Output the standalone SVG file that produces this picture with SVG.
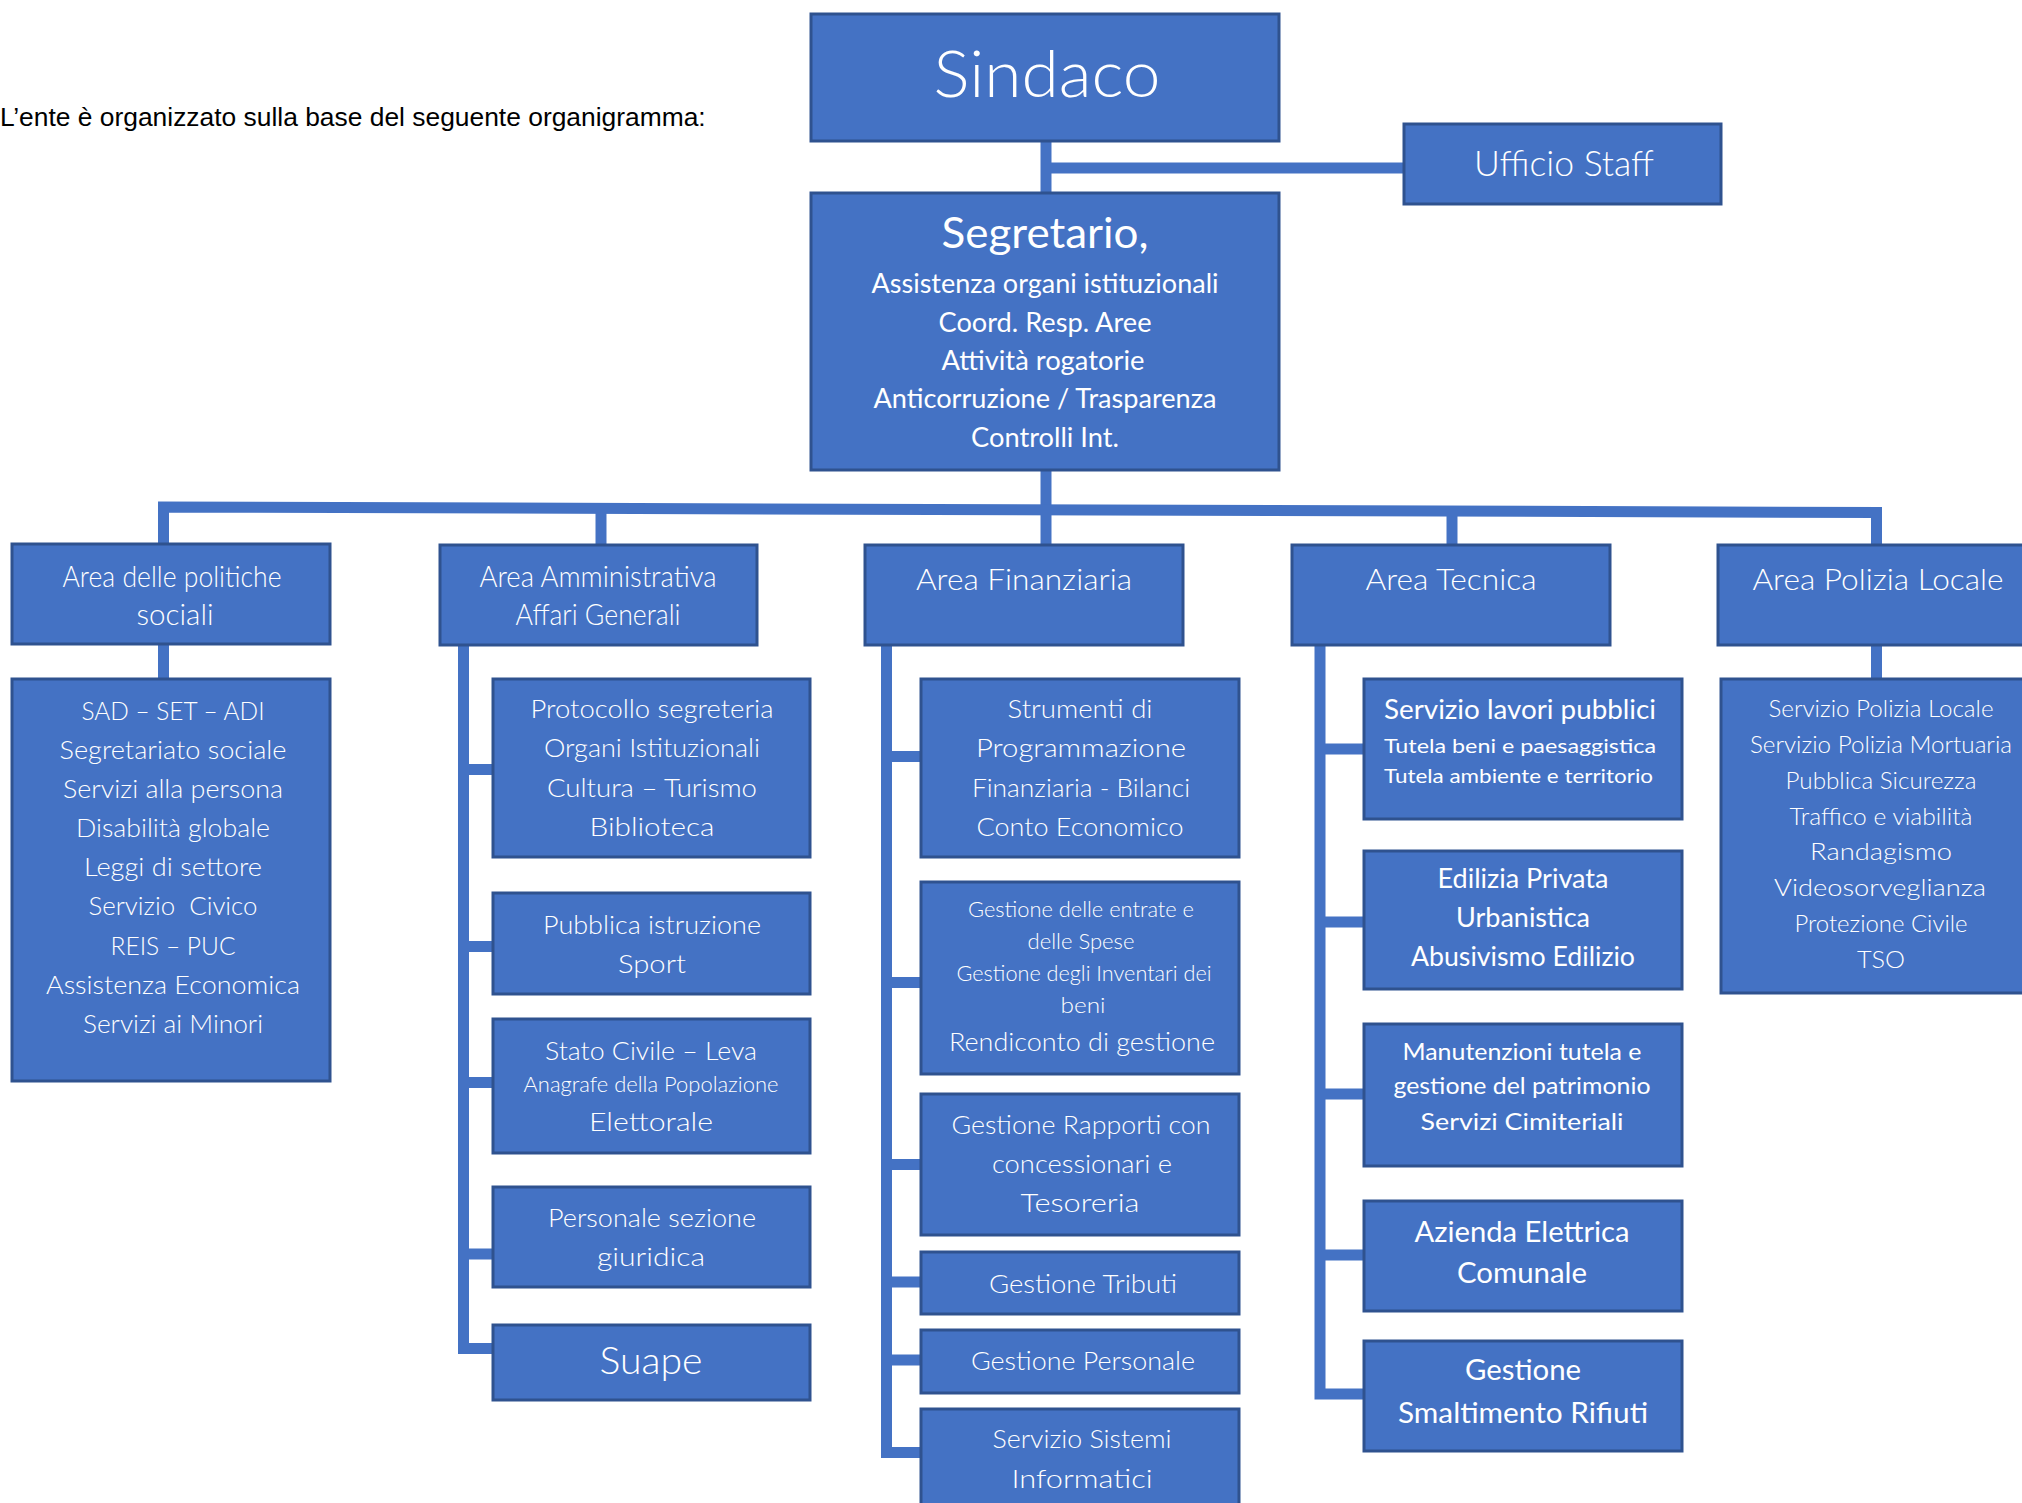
<svg xmlns="http://www.w3.org/2000/svg" width="2022" height="1503" viewBox="0 0 2022 1503">
<style>
.box{fill:#4472C4;stroke:#2F528F;stroke-width:3}
.con{fill:none;stroke:#4472C4;stroke-width:11;stroke-linejoin:miter;stroke-linecap:butt}
text{fill:#FFFFFF;font-family:Lato,"Noto Sans",sans-serif;text-anchor:middle}
.l{font-weight:300}
.r{font-weight:400}
.intro{fill:#000000;font-family:"Liberation Sans",Arial,sans-serif;text-anchor:start;font-size:26.4px}
</style>
<rect width="2022" height="1503" fill="#FFFFFF"/>
<text class="intro" x="0" y="126">L’ente è organizzato sulla base del seguente organigramma:</text>

<g id="connectors">
<path class="con" d="M1046,141 V193"/>
<path class="con" d="M1046,168 H1404"/>
<path class="con" d="M1046,469 V511"/>
<path class="con" d="M163.5,545 V507 L1876.5,512.5 V545"/>
<path class="con" d="M601,509 V545"/>
<path class="con" d="M1046,510 V545"/>
<path class="con" d="M1452,511 V545"/>
<path class="con" d="M163.5,643 V680"/>
<path class="con" d="M1876.5,645 V680"/>
<path class="con" d="M463.5,645 V1348.5 H494 M463.5,769.5 H494 M463.5,946.5 H494 M463.5,1082.5 H494 M463.5,1254 H494"/>
<path class="con" d="M886.5,645 V1452.5 H922 M886.5,756.5 H922 M886.5,982.5 H922 M886.5,1164.5 H922 M886.5,1282 H922 M886.5,1360 H922"/>
<path class="con" d="M1320,645 V1394 H1365 M1320,749 H1365 M1320,922 H1365 M1320,1094 H1365 M1320,1255 H1365"/>
</g>

<g id="sindaco">
<rect class="box" x="811" y="14" width="468" height="127"/>
<text class="l" x="1047" y="97" font-size="66" textLength="227" lengthAdjust="spacingAndGlyphs">Sindaco</text>
</g>

<g id="ufficio-staff">
<rect class="box" x="1404" y="124" width="317" height="80"/>
<text class="l" x="1564" y="176" font-size="36" textLength="180" lengthAdjust="spacingAndGlyphs">Ufficio Staff</text>
</g>

<g id="segretario">
<rect class="box" x="811" y="193" width="468" height="277"/>
<text class="r" x="1045" y="248" font-size="42" textLength="207" lengthAdjust="spacingAndGlyphs">Segretario,</text>
<text class="r" x="1045" y="293" font-size="27" textLength="347" lengthAdjust="spacingAndGlyphs">Assistenza organi istituzionali</text>
<text class="r" x="1045" y="332" font-size="27" textLength="213" lengthAdjust="spacingAndGlyphs">Coord. Resp. Aree</text>
<text class="r" x="1043" y="370" font-size="27" textLength="203" lengthAdjust="spacingAndGlyphs">Attività rogatorie</text>
<text class="r" x="1045" y="408" font-size="27" textLength="343" lengthAdjust="spacingAndGlyphs">Anticorruzione / Trasparenza</text>
<text class="r" x="1045" y="447" font-size="27" textLength="148" lengthAdjust="spacingAndGlyphs">Controlli Int.</text>
</g>

<g id="area-politiche-sociali">
<rect class="box" x="12" y="544" width="318" height="100"/>
<text class="l" x="172" y="587" font-size="30" textLength="219" lengthAdjust="spacingAndGlyphs">Area delle politiche</text>
<text class="l" x="175" y="625" font-size="30" textLength="77" lengthAdjust="spacingAndGlyphs">sociali</text>
</g>

<g id="servizi-sociali">
<rect class="box" x="12" y="679" width="318" height="402"/>
<text class="l" x="173" y="720" font-size="26" textLength="183" lengthAdjust="spacingAndGlyphs">SAD – SET – ADI</text>
<text class="l" x="173" y="759" font-size="26" textLength="227" lengthAdjust="spacingAndGlyphs">Segretariato sociale</text>
<text class="l" x="173" y="798" font-size="26" textLength="220" lengthAdjust="spacingAndGlyphs">Servizi alla persona</text>
<text class="l" x="173" y="837" font-size="26" textLength="194" lengthAdjust="spacingAndGlyphs">Disabilità globale</text>
<text class="l" x="173" y="876" font-size="26" textLength="178" lengthAdjust="spacingAndGlyphs">Leggi di settore</text>
<text class="l" x="173" y="915" font-size="26" textLength="169" lengthAdjust="spacingAndGlyphs">Servizio&#160; Civico</text>
<text class="l" x="173" y="955" font-size="26" textLength="125" lengthAdjust="spacingAndGlyphs">REIS – PUC</text>
<text class="l" x="173" y="994" font-size="26" textLength="254" lengthAdjust="spacingAndGlyphs">Assistenza Economica</text>
<text class="l" x="173" y="1033" font-size="26" textLength="180" lengthAdjust="spacingAndGlyphs">Servizi ai Minori</text>
</g>

<g id="area-amministrativa">
<rect class="box" x="440" y="545" width="317" height="100"/>
<text class="l" x="598" y="587" font-size="30" textLength="237" lengthAdjust="spacingAndGlyphs">Area Amministrativa</text>
<text class="l" x="598" y="625" font-size="30" textLength="165" lengthAdjust="spacingAndGlyphs">Affari Generali</text>
</g>

<g id="protocollo">
<rect class="box" x="493" y="679" width="317" height="178"/>
<text class="l" x="652" y="718" font-size="26" textLength="243" lengthAdjust="spacingAndGlyphs">Protocollo segreteria</text>
<text class="l" x="652" y="757" font-size="26" textLength="216" lengthAdjust="spacingAndGlyphs">Organi Istituzionali</text>
<text class="l" x="652" y="797" font-size="26" textLength="210" lengthAdjust="spacingAndGlyphs">Cultura – Turismo</text>
<text class="l" x="652" y="836" font-size="26" textLength="125" lengthAdjust="spacingAndGlyphs">Biblioteca</text>
</g>

<g id="pubblica-istruzione">
<rect class="box" x="493" y="893" width="317" height="101"/>
<text class="l" x="652" y="934" font-size="26" textLength="218" lengthAdjust="spacingAndGlyphs">Pubblica istruzione</text>
<text class="l" x="652" y="973" font-size="26" textLength="68" lengthAdjust="spacingAndGlyphs">Sport</text>
</g>

<g id="stato-civile">
<rect class="box" x="493" y="1019" width="317" height="134"/>
<text class="l" x="651" y="1060" font-size="26" textLength="212" lengthAdjust="spacingAndGlyphs">Stato Civile – Leva</text>
<text class="l" x="651" y="1092" font-size="21" textLength="255" lengthAdjust="spacingAndGlyphs">Anagrafe della Popolazione</text>
<text class="l" x="651" y="1131" font-size="26" textLength="124" lengthAdjust="spacingAndGlyphs">Elettorale</text>
</g>

<g id="personale-giuridica">
<rect class="box" x="493" y="1187" width="317" height="100"/>
<text class="l" x="652" y="1227" font-size="26" textLength="208" lengthAdjust="spacingAndGlyphs">Personale sezione</text>
<text class="l" x="651" y="1266" font-size="26" textLength="108" lengthAdjust="spacingAndGlyphs">giuridica</text>
</g>

<g id="suape">
<rect class="box" x="493" y="1325" width="317" height="75"/>
<text class="l" x="651" y="1374" font-size="37" textLength="103" lengthAdjust="spacingAndGlyphs">Suape</text>
</g>

<g id="area-finanziaria">
<rect class="box" x="865" y="545" width="318" height="100"/>
<text class="l" x="1024" y="590" font-size="30" textLength="216" lengthAdjust="spacingAndGlyphs">Area Finanziaria</text>
</g>

<g id="strumenti-programmazione">
<rect class="box" x="921" y="679" width="318" height="178"/>
<text class="l" x="1080" y="718" font-size="26" textLength="145" lengthAdjust="spacingAndGlyphs">Strumenti di</text>
<text class="l" x="1081" y="757" font-size="26" textLength="210" lengthAdjust="spacingAndGlyphs">Programmazione</text>
<text class="l" x="1081" y="797" font-size="26" textLength="218" lengthAdjust="spacingAndGlyphs">Finanziaria - Bilanci</text>
<text class="l" x="1080" y="836" font-size="26" textLength="207" lengthAdjust="spacingAndGlyphs">Conto Economico</text>
</g>

<g id="gestione-entrate-spese">
<rect class="box" x="921" y="882" width="318" height="192"/>
<text class="l" x="1081" y="917" font-size="21" textLength="226" lengthAdjust="spacingAndGlyphs">Gestione delle entrate e</text>
<text class="l" x="1081" y="949" font-size="21" textLength="107" lengthAdjust="spacingAndGlyphs">delle Spese</text>
<text class="l" x="1084" y="981" font-size="21" textLength="255" lengthAdjust="spacingAndGlyphs">Gestione degli Inventari dei</text>
<text class="l" x="1083" y="1013" font-size="21" textLength="45" lengthAdjust="spacingAndGlyphs">beni</text>
<text class="l" x="1082" y="1051" font-size="26" textLength="266" lengthAdjust="spacingAndGlyphs">Rendiconto di gestione</text>
</g>

<g id="gestione-rapporti">
<rect class="box" x="921" y="1094" width="318" height="141"/>
<text class="l" x="1081" y="1134" font-size="26" textLength="259" lengthAdjust="spacingAndGlyphs">Gestione Rapporti con</text>
<text class="l" x="1082" y="1173" font-size="26" textLength="180" lengthAdjust="spacingAndGlyphs">concessionari e</text>
<text class="l" x="1080" y="1212" font-size="26" textLength="119" lengthAdjust="spacingAndGlyphs">Tesoreria</text>
</g>

<g id="gestione-tributi">
<rect class="box" x="921" y="1252" width="318" height="62"/>
<text class="l" x="1083" y="1293" font-size="26" textLength="188" lengthAdjust="spacingAndGlyphs">Gestione Tributi</text>
</g>

<g id="gestione-personale">
<rect class="box" x="921" y="1330" width="318" height="63"/>
<text class="l" x="1083" y="1370" font-size="26" textLength="224" lengthAdjust="spacingAndGlyphs">Gestione Personale</text>
</g>

<g id="sistemi-informatici">
<rect class="box" x="921" y="1409" width="318" height="110"/>
<text class="l" x="1082" y="1448" font-size="26" textLength="179" lengthAdjust="spacingAndGlyphs">Servizio Sistemi</text>
<text class="l" x="1082" y="1488" font-size="26" textLength="141" lengthAdjust="spacingAndGlyphs">Informatici</text>
</g>

<g id="area-tecnica">
<rect class="box" x="1292" y="545" width="318" height="100"/>
<text class="l" x="1451" y="590" font-size="30" textLength="171" lengthAdjust="spacingAndGlyphs">Area Tecnica</text>
</g>

<g id="lavori-pubblici">
<rect class="box" x="1364" y="679" width="318" height="140"/>
<text class="r" x="1384" y="719" font-size="26" style="text-anchor:start" textLength="272" lengthAdjust="spacingAndGlyphs">Servizio lavori pubblici</text>
<text class="r" x="1384" y="753" font-size="20" style="text-anchor:start" textLength="272" lengthAdjust="spacingAndGlyphs">Tutela beni e paesaggistica</text>
<text class="r" x="1384" y="783" font-size="19" style="text-anchor:start" textLength="269" lengthAdjust="spacingAndGlyphs">Tutela ambiente e territorio</text>
</g>

<g id="edilizia-privata">
<rect class="box" x="1364" y="851" width="318" height="138"/>
<text class="r" x="1523" y="888" font-size="26" textLength="171" lengthAdjust="spacingAndGlyphs">Edilizia Privata</text>
<text class="r" x="1523" y="927" font-size="26" textLength="134" lengthAdjust="spacingAndGlyphs">Urbanistica</text>
<text class="r" x="1523" y="966" font-size="26" textLength="224" lengthAdjust="spacingAndGlyphs">Abusivismo Edilizio</text>
</g>

<g id="manutenzioni">
<rect class="box" x="1364" y="1024" width="318" height="142"/>
<text class="r" x="1522" y="1060" font-size="23" textLength="239" lengthAdjust="spacingAndGlyphs">Manutenzioni tutela e</text>
<text class="r" x="1522" y="1094" font-size="23" textLength="257" lengthAdjust="spacingAndGlyphs">gestione del patrimonio</text>
<text class="r" x="1522" y="1130" font-size="23" textLength="203" lengthAdjust="spacingAndGlyphs">Servizi Cimiteriali</text>
</g>

<g id="azienda-elettrica">
<rect class="box" x="1364" y="1201" width="318" height="110"/>
<text class="r" x="1522" y="1242" font-size="28" textLength="215" lengthAdjust="spacingAndGlyphs">Azienda Elettrica</text>
<text class="r" x="1522" y="1283" font-size="28" textLength="130" lengthAdjust="spacingAndGlyphs">Comunale</text>
</g>

<g id="smaltimento-rifiuti">
<rect class="box" x="1364" y="1341" width="318" height="110"/>
<text class="r" x="1523" y="1380" font-size="28" textLength="116" lengthAdjust="spacingAndGlyphs">Gestione</text>
<text class="r" x="1523" y="1423" font-size="28" textLength="250" lengthAdjust="spacingAndGlyphs">Smaltimento Rifiuti</text>
</g>

<g id="area-polizia-locale">
<rect class="box" x="1718" y="545" width="312" height="100"/>
<text class="l" x="1878" y="590" font-size="30" textLength="251" lengthAdjust="spacingAndGlyphs">Area Polizia Locale</text>
</g>

<g id="servizi-polizia">
<rect class="box" x="1721" y="679" width="310" height="314"/>
<text class="l" x="1881" y="717" font-size="24" textLength="225" lengthAdjust="spacingAndGlyphs">Servizio Polizia Locale</text>
<text class="l" x="1881" y="753" font-size="24" textLength="262" lengthAdjust="spacingAndGlyphs">Servizio Polizia Mortuaria</text>
<text class="l" x="1881" y="789" font-size="24" textLength="191" lengthAdjust="spacingAndGlyphs">Pubblica Sicurezza</text>
<text class="l" x="1881" y="825" font-size="24" textLength="183" lengthAdjust="spacingAndGlyphs">Traffico e viabilità</text>
<text class="l" x="1881" y="860" font-size="24" textLength="142" lengthAdjust="spacingAndGlyphs">Randagismo</text>
<text class="l" x="1880" y="896" font-size="24" textLength="212" lengthAdjust="spacingAndGlyphs">Videosorveglianza</text>
<text class="l" x="1881" y="932" font-size="24" textLength="173" lengthAdjust="spacingAndGlyphs">Protezione Civile</text>
<text class="l" x="1881" y="968" font-size="24" textLength="48" lengthAdjust="spacingAndGlyphs">TSO</text>
</g>
</svg>
